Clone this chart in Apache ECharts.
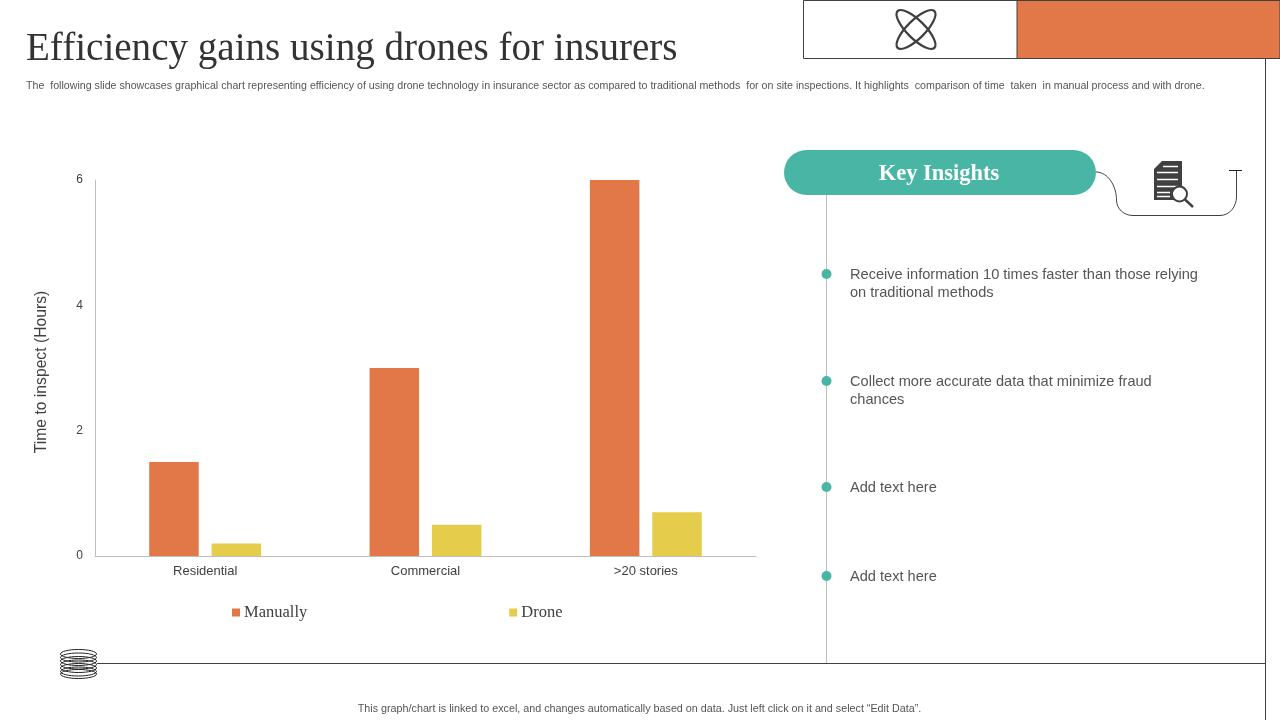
<!DOCTYPE html>
<html><head><meta charset="utf-8">
<style>html,body{margin:0;padding:0;background:#fff}#c{width:1280px;height:720px}</style>
<script src="https://cdn.jsdelivr.net/npm/echarts@6/dist/echarts.min.js"></script>
</head><body><div id="c"></div>
<script>
const categories = ['Residential','Commercial','>20 stories'];
const manually = [1.5,3,6];
const drone = [0.2,0.5,0.7];
const yTicks = {min:0,max:6,interval:2};
const insights = [
 ['Receive information 10 times faster than those relying\non traditional methods',274],
 ['Collect more accurate data that minimize fraud\nchances',381],
 ['Add text here',487],
 ['Add text here',576]
];
const titleText = 'Efficiency gains using drones for insurers';
const subText = 'The  following slide showcases graphical chart representing efficiency of using drone technology in insurance sector as compared to traditional methods  for on site inspections. It highlights  comparison of time  taken  in manual process and with drone.';
const footText = 'This graph/chart is linked to excel, and changes automatically based on data. Just left click on it and select “Edit Data”.';
const DARK='#404040', ORANGE='#E27847', YEL='#E5CD4B', TEAL='#49B6A5', GREY='#BFBFBF';
const sans='"Liberation Sans",Arial,sans-serif', serif='"Liberation Serif",serif';

const g=[];
const line=(x1,y1,x2,y2,c,w)=>g.push({type:'line',silent:true,shape:{x1,y1,x2,y2},style:{stroke:c,lineWidth:w||1}});
const rect=(x,y,w,h,fill,stroke,r)=>g.push({type:'rect',silent:true,shape:{x,y,width:w,height:h,r:r||0},style:{fill,stroke:stroke||null,lineWidth:stroke?1:0}});
const text=(x,y,t,font,fill,align,lh)=>g.push({type:'text',silent:true,x,y,style:{text:t,font,fill,align:align||'left',verticalAlign:'middle',lineHeight:lh}});
const curve=(x1,y1,cpx1,cpy1,cpx2,cpy2,x2,y2)=>g.push({type:'bezierCurve',silent:true,shape:{x1,y1,cpx1,cpy1,cpx2,cpy2,x2,y2},style:{fill:'none',stroke:DARK,lineWidth:1}});

// header + frame
rect(803.5,0.5,214,58,'#fff',DARK);
rect(1017,0.5,263,58,ORANGE,DARK);
line(1265.5,58,1265.5,720,DARK,1);
line(97,663.5,1265,663.5,DARK,1);
line(826.5,195,826.5,663,GREY,1);

// atom icon
[45,-45].forEach(a=>g.push({type:'ellipse',silent:true,x:916,y:29.5,rotation:a*Math.PI/180,
  shape:{cx:0,cy:0,rx:26,ry:9},style:{fill:'none',stroke:DARK,lineWidth:2.2}}));

// coil icon
[654,657.5,661,664.5,668,671.5,674].forEach(y=>g.push({type:'ellipse',silent:true,
  shape:{cx:78.5,cy:y,rx:18,ry:4.5},style:{fill:'none',stroke:'#222',lineWidth:1}}));

// title etc
text(26,50,titleText,'39.1px '+serif,'#333');
text(26,86.5,subText,'10.65px '+sans,'#555');
text(639.5,709,footText,'10.75px '+sans,'#555','center');

// key insights
rect(784,150,312,45,TEAL,null,22.5);
text(939,174.5,'Key Insights','bold 22.5px '+serif,'#fff','center');
curve(1096,172, 1108,172, 1116.5,186, 1116.5,200);
curve(1116.5,200, 1116.5,209, 1124,215.5, 1133,215.5);
line(1133,215.5,1220,215.5,DARK,1);
curve(1220,215.5, 1230,215.5, 1236.5,206, 1236.5,197);
line(1236.5,197,1236.5,170,DARK,1);
line(1229,170.5,1242,170.5,'#222',1);

// document + magnifier icon
g.push({type:'polygon',silent:true,shape:{points:[[1162,161],[1182,161],[1182,200],[1154,200],[1154,169]]},style:{fill:DARK}});
[[1163,1178,166],[1157,1178,172],[1157,1178,179],[1157,1178,186],[1157,1170,192],[1157,1170,196]].forEach(a=>line(a[0],a[2]+.5,a[1],a[2]+.5,'#fff',1.5));
g.push({type:'circle',silent:true,shape:{cx:1179.5,cy:194,r:7.5},style:{fill:'#fff',stroke:DARK,lineWidth:2}});
line(1185,199.5,1193,207,DARK,2.4);

// bullets
insights.forEach(it=>{
  g.push({type:'circle',silent:true,shape:{cx:826.5,cy:it[1],r:5},style:{fill:TEAL}});
  const two=it[0].includes('\n');
  text(850,(two?it[1]+9:it[1])+1,it[0],'14.6px '+sans,'#555','left',18);
});

const chart=echarts.init(document.getElementById('c'),null,{renderer:'canvas'});
chart.setOption({
 animation:false,
 textStyle:{fontFamily:sans},
 graphic:g,
 grid:{left:95,right:524,top:180,bottom:164,containLabel:false},
 legend:{left:227,top:599,itemWidth:8,itemHeight:8,itemGap:202,icon:'rect',
   textStyle:{fontFamily:serif,fontSize:16.5,color:'#404040',padding:[0,0,0,-1]},
   data:['Manually','Drone']},
 xAxis:{type:'category',data:categories,
   axisLine:{lineStyle:{color:'#BFBFBF'}},axisTick:{show:false},
   axisLabel:{color:'#404040',fontSize:13,margin:9,fontFamily:sans}},
 yAxis:{type:'value',min:yTicks.min,max:yTicks.max,interval:yTicks.interval,
   name:'Time to inspect (Hours)',nameLocation:'middle',nameGap:45,
   nameTextStyle:{color:'#404040',fontSize:15.7,fontFamily:sans,padding:[0,8,0,0]},
   axisLine:{show:true,lineStyle:{color:'#BFBFBF'}},axisTick:{show:false},
   splitLine:{show:false},
   axisLabel:{color:'#404040',fontSize:12,margin:12,fontFamily:sans,padding:[2,0,0,0]}},
 series:[
  {name:'Manually',type:'bar',data:manually,barWidth:49.5,barGap:'26%',itemStyle:{color:ORANGE}},
  {name:'Drone',type:'bar',data:drone,barWidth:49.5,itemStyle:{color:YEL}}
 ]
});
</script></body></html>
